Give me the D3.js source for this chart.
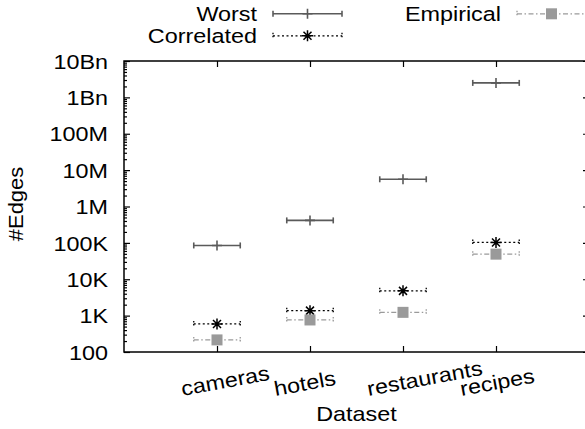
<!DOCTYPE html>
<html>
<head>
<meta charset="utf-8">
<script src="https://cdn.jsdelivr.net/npm/d3@7"></script>
<style>
    body { margin: 0; background: #fff; }
    text { font-family: "Liberation Sans", Arial, Helvetica, sans-serif; fill: #000; }
</style>
</head>
<body>
<div id="chart"></div>
<script>

// Data
var categories = ["cameras", "hotels", "restaurants", "recipes"];
var worst = [85000, 415000, 5600000, 2500000000];
var correlated = [590, 1370, 4800, 103000];
var empirical = [215, 760, 1230, 49000];
var x_err = 0.25;

var y_tick_values = [1e2, 1e3, 1e4, 1e5, 1e6, 1e7, 1e8, 1e9, 1e10];
var y_tick_labels = ["100", "1K", "10K", "100K", "1M", "10M", "100M", "1Bn", "10Bn"];

chart = {
    width: 585,
    height: 429,
    left: 124,
    right: 589,
    top: 61,
    bottom: 352,
    font_size: 20.5,
    stretch: 1.14,
};

var series = [
    { name: "Worst", values: worst, color: "#5a5a5a", width: 1.6, dash: null, marker: "plus" },
    { name: "Correlated", values: correlated, color: "#000", width: 1.3, dash: "2,2.5", marker: "star" },
    { name: "Empirical", values: empirical, color: "#9a9a9a", width: 1.3, dash: "5,2.5,1.5,2.5", marker: "square" },
];

var svg = d3.select("#chart").append("svg")
    .attr("width", chart.width)
    .attr("height", chart.height);

var x = d3.scaleLinear().domain([0, categories.length + 1]).range([chart.left, chart.right]);
var y = d3.scaleLog().domain([1e2, 1e10]).range([chart.bottom, chart.top]);

// minor ticks 2..9 per decade
var minor = [];
y_tick_values.slice(0, -1).forEach((d) => {
    for (let k = 2; k < 10; k++) minor.push(d * k);
});

function style_axis(g) {
    g.select(".domain").remove();
    g.selectAll(".tick line").attr("stroke", "#000").attr("stroke-width", 1.2);
    g.attr("font-family", null).attr("font-size", null);
}

// Y axis (left) with labels
svg.append("g")
    .attr("transform", "translate(" + chart.left + ",0)")
    .call(d3.axisLeft(y)
        .tickValues(y_tick_values)
        .tickFormat((d, i) => y_tick_labels[i])
        .tickSize(-6)
        .tickPadding(16))
    .call(style_axis)
    .selectAll("text")
        .attr("x", -16 / chart.stretch)
        .attr("dy", "0.35em")
        .attr("transform", "scale(" + chart.stretch + ",1)")
        .style("font-size", chart.font_size + "px");

svg.append("g")
    .attr("transform", "translate(" + chart.left + ",0)")
    .call(d3.axisLeft(y).tickValues(minor).tickFormat("").tickSize(-3))
    .call(style_axis);

// Mirror ticks on the right
svg.append("g")
    .attr("transform", "translate(" + chart.right + ",0)")
    .call(d3.axisRight(y).tickValues(y_tick_values).tickFormat("").tickSize(-6))
    .call(style_axis);
svg.append("g")
    .attr("transform", "translate(" + chart.right + ",0)")
    .call(d3.axisRight(y).tickValues(minor).tickFormat("").tickSize(-3))
    .call(style_axis);

// X axis, rotated labels
var cat_pos = categories.map((c, i) => i + 1);

svg.append("g")
    .attr("transform", "translate(0," + chart.bottom + ")")
    .call(d3.axisBottom(x)
        .tickValues(cat_pos)
        .tickFormat((d, i) => categories[i])
        .tickSize(-6))
    .call(style_axis)
    .selectAll("text")
        .attr("y", 0)
        .attr("dy", 0)
        .attr("text-anchor", "start")
        .attr("transform", "translate(-35,44) rotate(-10.5) scale(" + chart.stretch + ",1)")
        .style("font-size", chart.font_size + "px");

svg.append("g")
    .attr("transform", "translate(0," + chart.top + ")")
    .call(d3.axisTop(x).tickValues(cat_pos).tickFormat("").tickSize(-6))
    .call(style_axis);

// Frame
svg.append("rect")
    .attr("x", chart.left)
    .attr("y", chart.top)
    .attr("width", chart.right - chart.left)
    .attr("height", chart.bottom - chart.top)
    .attr("fill", "none")
    .attr("stroke", "#000")
    .attr("stroke-width", 1.5);

// Axis titles
svg.append("text")
    .attr("transform", "translate(" + (chart.left + chart.right) / 2 + ",421) scale(" + chart.stretch + ",1)")
    .attr("text-anchor", "middle")
    .style("font-size", chart.font_size + "px")
    .text("Dataset");

svg.append("text")
    .attr("transform", "translate(23,204) rotate(-90) scale(1.07,1)")
    .attr("text-anchor", "middle")
    .style("font-size", chart.font_size + "px")
    .text("#Edges");

function draw_marker(g, kind, s) {
    if (kind == "plus") {
        g.append("path").attr("d", "M-5,0H5M0,-5V5")
            .attr("stroke", s.color).attr("stroke-width", s.width).attr("fill", "none");
    } else if (kind == "star") {
        g.append("path").attr("d", "M-5.5,0H5.5M0,-5.5V5.5M-4,-4L4,4M-4,4L4,-4")
            .attr("stroke", s.color).attr("stroke-width", 1.5).attr("fill", "none");
    } else if (kind == "square") {
        g.append("rect").attr("x", -5.5).attr("y", -5.5).attr("width", 11).attr("height", 11)
            .attr("fill", s.color);
    }
}

// Horizontal error bar with caps
function draw_bar(g, x0, x1, s) {
    g.append("line")
        .attr("x1", x0).attr("x2", x1).attr("y1", 0).attr("y2", 0)
        .attr("stroke", s.color).attr("stroke-width", s.width)
        .attr("stroke-dasharray", s.dash);
    [x0, x1].forEach((cx) => {
        g.append("line")
            .attr("x1", cx).attr("x2", cx).attr("y1", -3).attr("y2", 3)
            .attr("stroke", s.color).attr("stroke-width", s.width)
            .attr("stroke-dasharray", s.dash ? "1.5,1.5" : null);
    });
}

var plot = svg.append("g").attr("class", "series");

series.forEach((s) => {
    var pts = plot.append("g")
        .selectAll("g")
        .data(s.values)
        .enter().append("g")
            .attr("transform", (d, i) => "translate(0," + y(d) + ")");

    pts.each(function(d, i) {
        let g = d3.select(this);
        draw_bar(g, x(cat_pos[i] - x_err), x(cat_pos[i] + x_err), s);
        let m = g.append("g").attr("transform", "translate(" + x(cat_pos[i]) + ",0)");
        draw_marker(m, s.marker, s);
    });
});

// Legend: two columns, gnuplot style
var legend_font = 19.5;
var legend_items = [
    { s: series[0], text_x: 257, cy: 13.8, x0: 273, x1: 342 },
    { s: series[1], text_x: 257, cy: 35.8, x0: 273, x1: 342 },
    { s: series[2], text_x: 501, cy: 13.8, x0: 517, x1: 586 },
];

var legend = svg.append("g").attr("class", "legend")
    .selectAll("g")
    .data(legend_items)
    .enter().append("g")
        .attr("transform", (d) => "translate(0," + d.cy + ")");

legend.append("text")
    .attr("transform", (d) => "translate(" + d.text_x + ",0) scale(1.2,1)")
    .attr("text-anchor", "end")
    .attr("dy", "0.36em")
    .style("font-size", legend_font + "px")
    .text((d) => d.s.name);

legend.each(function(d) {
    let g = d3.select(this);
    draw_bar(g, d.x0, d.x1, d.s);
    let m = g.append("g").attr("transform", "translate(" + (d.x0 + d.x1) / 2 + ",0)");
    draw_marker(m, d.s.marker, d.s);
});

</script>
</body>
</html>
